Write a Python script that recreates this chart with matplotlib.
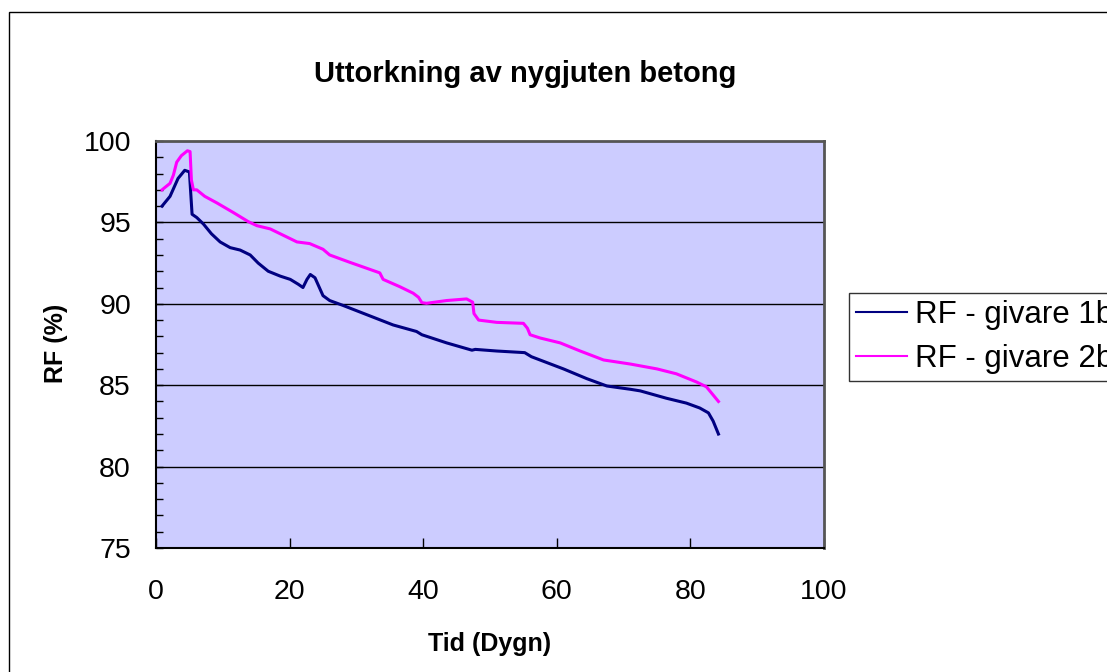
import matplotlib
matplotlib.use('Agg')
import matplotlib.pyplot as plt
from matplotlib.patches import Rectangle
from matplotlib.ticker import MultipleLocator

plt.rcParams['font.family'] = ['Liberation Sans', 'DejaVu Sans']

# RF - givare 1b
tid_1b = [0.9, 2.1, 3.3, 4.3, 5.0, 5.4, 6.1, 7.1, 8.3, 9.6, 11.1, 12.6, 14.1, 15.3,
          16.8, 18.6, 20.1, 21.3, 22.0, 22.6, 23.1, 23.8, 25.0, 26.0, 28.0, 30.5,
          33.0, 35.5, 39.0, 39.8, 43.5, 47.3, 47.8, 51.0, 55.2, 56.2, 61.0, 64.5,
          67.5, 71.0, 72.5, 76.4, 79.4, 81.4, 82.7, 83.4, 84.2]
rf_1b = [96.0, 96.6, 97.7, 98.2, 98.1, 95.5, 95.3, 94.9, 94.3, 93.8, 93.45, 93.3, 93.0, 92.5,
         92.0, 91.7, 91.5, 91.2, 91.0, 91.5, 91.8, 91.6, 90.5, 90.2, 89.9, 89.5,
         89.1, 88.7, 88.3, 88.1, 87.6, 87.15, 87.2, 87.1, 87.0, 86.75, 86.0, 85.4,
         84.95, 84.75, 84.65, 84.2, 83.9, 83.6, 83.3, 82.8, 82.0]

# RF - givare 2b
tid_2b = [0.9, 2.1, 2.6, 3.1, 3.8, 4.7, 5.1, 5.3, 5.6, 6.1, 7.3, 9.1, 11.6, 13.8, 15.1,
          17.1, 19.1, 21.1, 23.0, 25.0, 26.0, 29.0, 33.5, 34.0, 36.5, 38.5, 39.3,
          39.8, 40.5, 43.5, 46.5, 47.4, 47.6, 48.3, 51.0, 55.0, 55.6, 56.0, 57.5,
          60.5, 63.5, 67.0, 71.0, 75.0, 77.9, 80.9, 82.4, 83.2, 84.2]
rf_2b = [97.0, 97.4, 97.9, 98.7, 99.1, 99.4, 99.35, 97.6, 97.0, 97.0, 96.6, 96.2, 95.6, 95.05, 94.8,
         94.6, 94.2, 93.8, 93.7, 93.35, 93.0, 92.55, 91.9, 91.5, 91.05, 90.65, 90.4,
         90.07, 90.03, 90.2, 90.3, 90.1, 89.4, 89.0, 88.86, 88.8, 88.5, 88.1, 87.9,
         87.6, 87.1, 86.55, 86.3, 86.0, 85.7, 85.2, 84.9, 84.5, 84.0]

W, H = 1107, 672
fig = plt.figure(figsize=(W / 100, H / 100), dpi=100)
fig.patch.set_facecolor('white')

# ram runt hela diagrammet (går utanför bilden till höger/nederkant)
fig.patches.append(Rectangle((9 / W, -0.1), 1.2, 1 - 12 / H + 0.1, transform=fig.transFigure,
                             fill=False, edgecolor='black', linewidth=1.0))

ax = fig.add_axes([156 / W, 1 - 548 / H, (824 - 156) / W, (548 - 141) / H])
ax.set_facecolor('#CCCCFF')

l1, = ax.plot(tid_1b, rf_1b, color='#000080', linewidth=2.2, label='RF - givare 1b')
l2, = ax.plot(tid_2b, rf_2b, color='#FF00FF', linewidth=2.2, label='RF - givare 2b')

ax.set_xlim(0, 100)
ax.set_ylim(75, 100)
ax.xaxis.set_major_locator(MultipleLocator(20))
ax.yaxis.set_major_locator(MultipleLocator(5))
ax.yaxis.set_minor_locator(MultipleLocator(1))
for yv in [80, 85, 90, 95]:
    ax.axhline(yv, color='black', linewidth=1.0, zorder=1)

ax.tick_params(axis='x', direction='in', length=7, width=1, pad=22, labelsize=20.5, top=False)
ax.tick_params(axis='y', which='major', direction='in', length=5, width=1, pad=18, labelsize=20.5, right=False)
ax.tick_params(axis='y', which='minor', direction='in', length=5, width=1, right=False)

for s in ['top', 'right']:
    ax.spines[s].set_color('#555555')
    ax.spines[s].set_linewidth(2)
for s in ['left', 'bottom']:
    ax.spines[s].set_color('black')
    ax.spines[s].set_linewidth(1.5)

fig.text(525 / W, 1 - 82 / H, 'Uttorkning av nygjuten betong', ha='center', va='baseline',
         fontsize=21, fontweight='bold')
fig.text(490 / W, 1 - 651 / H, 'Tid (Dygn)', ha='center', va='baseline', fontsize=18, fontweight='bold')
fig.text(63 / W, 1 - 343 / H, 'RF (%)', ha='center', va='baseline', rotation=90,
         rotation_mode='anchor', fontsize=18, fontweight='bold')

# legenden går utanför bildens högerkant, som i originalet
leg = fig.legend(handles=[l1, l2], loc='upper left', bbox_to_anchor=(849 / W, 1 - 293 / H),
                 frameon=True, fancybox=False, fontsize=22.5, handlelength=1.63,
                 handletextpad=0.25, borderpad=0.22, labelspacing=0.44, borderaxespad=0)
leg.get_frame().set_edgecolor('black')
leg.get_frame().set_linewidth(1.0)
for h in leg.get_lines():
    h.set_linewidth(1.5)

fig.savefig('out.png', dpi=100)
